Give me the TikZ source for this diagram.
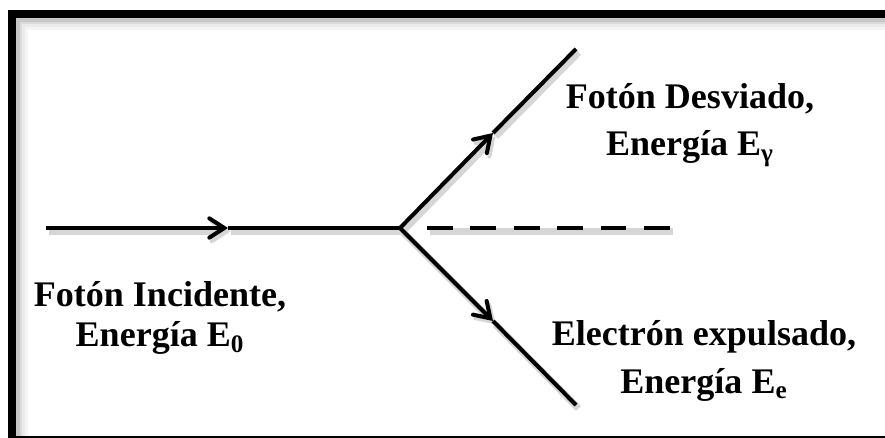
\documentclass[tikz,border=0pt]{standalone}
\usepackage{fontspec}
\setmainfont{Liberation Serif}
\usetikzlibrary{arrows.meta}
\tikzset{
  ray/.style={line width=2.3pt, draw=black,
              preaction={draw=black!16, line width=4pt, transform canvas={shift={(2.5,3.5)}}}},
  rayarrow/.style={ray, -{Straight Barb[length=8.5pt, width=11pt, line width=2.3pt, line cap=round]}},
  dashray/.style={ray, dash pattern=on 14.7pt off 10pt},
  label/.style={font=\fontsize{20.5}{27}\selectfont\bfseries, align=center, inner sep=0pt},
}
\begin{document}
\begin{tikzpicture}[x=0.02cm, y=-0.02cm]
  \useasboundingbox (0,0) rectangle (885,438);
  \clip (0,0) rectangle (885,438);

  %% frame with inner shadow
  \foreach \d/\c in {13/4, 10/8, 7/14, 5/22}
    \draw[line width=3pt, black!\c] (12+\d,450) -- (12+\d,14+\d) -- (900,14+\d);
  \draw[line width=4.5pt] (12,14) rectangle (898,440);

  %% rays
  \coordinate (start) at (46,228);
  \coordinate (vertex) at (400,228);
  \coordinate (inmid) at (228,228);
  \coordinate (upmid) at (493,133);
  \coordinate (upend) at (576,49);
  \coordinate (lowmid) at (493,321);
  \coordinate (lowend) at (576,405);
  \coordinate (dashstart) at (427,228);
  \coordinate (dashend) at (670,228);

  \draw[rayarrow] (start) -- (inmid);
  \draw[ray] (inmid) -- (vertex);
  \draw[rayarrow] (vertex) -- (upmid);
  \draw[ray] (upmid) -- (upend);
  \draw[rayarrow] (vertex) -- (lowmid);
  \draw[ray] (lowmid) -- (lowend);
  \draw[dashray] (dashstart) -- (dashend);

  %% labels
  \node[label] (incident) at (160,318) {Fotón Incidente,\\[-4pt] Energía E\textsubscript{0}};
  \node[label] (scattered) at (690,125) {Fotón Desviado,\\ Energía E\textsubscript{γ}};
  \node[label] (electron) at (704,361) {Electrón expulsado,\\ Energía E\textsubscript{e}};
\end{tikzpicture}
\end{document}
